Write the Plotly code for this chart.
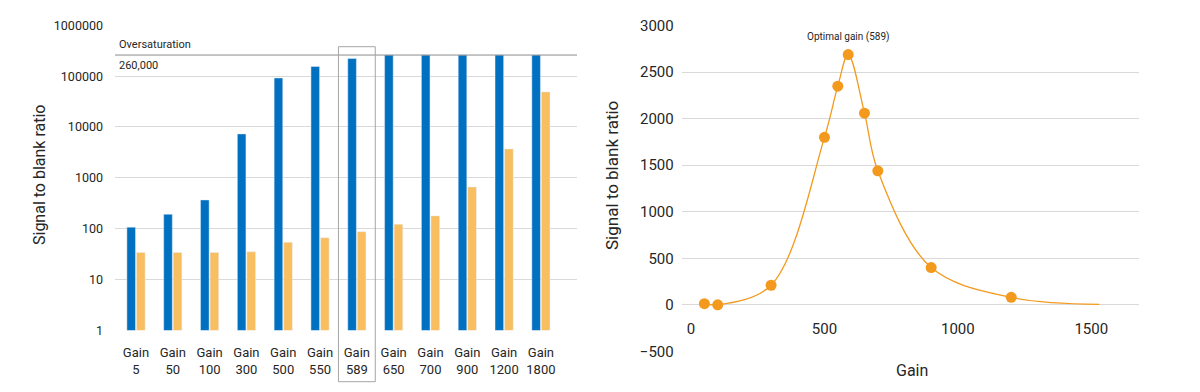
import math
import plotly.graph_objects as go

# ---------------- data ----------------
gains = ["5", "50", "100", "300", "500", "550", "589", "650", "700", "900", "1200", "1800"]
signal_ratio = [107, 192, 367, 7300, 92000, 155000, 222000, 260000, 260000, 260000, 260000, 260000]
blank_ratio = [34, 34, 34, 35, 54, 66, 87, 122, 178, 660, 3700, 49000]
oversaturation = 260000
highlight_gain = "589"

point_gain = [50, 100, 300, 500, 550, 589, 650, 700, 900, 1200]
point_ratio = [12, 0, 210, 1800, 2350, 2690, 2060, 1440, 400, 80]
tail_gain = [1530]
tail_ratio = [5]

left_ticks = [1, 10, 100, 1000, 10000, 100000, 1000000]
right_yticks = [-500, 0, 500, 1000, 1500, 2000, 2500, 3000]
right_xticks = [0, 500, 1000, 1500]

FONT = "Roboto"
TXT = "#262626"
GRID = "#D9D9D9"
BLUE = "#0070C0"
LORANGE = "#F8BE5F"
ORANGE = "#F39A1E"

W, H = 1200, 392
def px(v): return v / W
def py(v): return 1 - v / H

cats = ["Gain " + g for g in gains]

fig = go.Figure()
fig.add_trace(go.Bar(x=cats, y=signal_ratio, marker_color=BLUE, xaxis="x", yaxis="y",
                     showlegend=False, name="Signal"))
fig.add_trace(go.Bar(x=cats, y=blank_ratio, marker_color=LORANGE, xaxis="x", yaxis="y",
                     showlegend=False, name="Blank"))

# right chart: smooth line through the points plus its tail, markers on data points
fig.add_trace(go.Scatter(x=point_gain + tail_gain, y=point_ratio + tail_ratio, mode="lines",
                         line=dict(color=ORANGE, width=1.3, shape="spline", smoothing=1.0),
                         xaxis="x2", yaxis="y2", showlegend=False, hoverinfo="skip"))
fig.add_trace(go.Scatter(x=point_gain, y=point_ratio, mode="markers",
                         marker=dict(color=ORANGE, size=11),
                         xaxis="x2", yaxis="y2", showlegend=False))

hi = cats.index("Gain " + highlight_gain)

fig.update_layout(
    width=W, height=H,
    margin=dict(l=0, r=0, t=0, b=0, autoexpand=False),
    paper_bgcolor="white", plot_bgcolor="white",
    font=dict(family=FONT, color=TXT),
    barmode="group", bargap=0.48, bargroupgap=0.1,
    xaxis=dict(domain=[px(115), px(577)], type="category", range=[-0.57, 11.98],
               tickvals=cats, ticktext=["Gain<br>" + g for g in gains],
               tickfont=dict(size=13, color=TXT), showgrid=False, showline=False,
               zeroline=False, ticks="", ticklabelstandoff=13, anchor="y", automargin=False),
    yaxis=dict(domain=[py(330.3), py(25.3)], type="log", range=[0, 6],
               tickvals=left_ticks, ticktext=[str(t) for t in left_ticks],
               tickfont=dict(size=12.5, color=TXT), showgrid=True, gridcolor=GRID, gridwidth=1,
               showline=False, zeroline=False, ticks="", ticklabelstandoff=11, anchor="x",
               automargin=False),
    xaxis2=dict(domain=[px(681.7), px(1139.3)], range=[-35, 1680],
                tickvals=right_xticks, tickfont=dict(size=15, color=TXT),
                showgrid=False, showline=False, zeroline=False, ticks="",
                anchor="free", position=py(304.3), ticklabelstandoff=14, automargin=False),
    yaxis2=dict(domain=[py(351.3), py(25.7)], range=[-500, 3000],
                tickvals=right_yticks, tickfont=dict(size=15, color=TXT),
                showgrid=True, gridcolor=GRID, gridwidth=1, showline=False, zeroline=False,
                ticks="", ticklabelstandoff=7, anchor="x2", automargin=False),
    shapes=[
        dict(type="line", xref="x domain", yref="y", x0=0, x1=1,
             y0=oversaturation, y1=oversaturation, line=dict(color="#8C8C8C", width=1)),
        dict(type="rect", xref="x", yref="paper", x0=hi - 0.5, x1=hi + 0.5,
             y0=py(381.7), y1=py(46.7), line=dict(color="#A6A6A6", width=1),
             fillcolor="rgba(0,0,0,0)"),
    ],
    annotations=[
        dict(text="Oversaturation", xref="paper", yref="y", x=px(117),
             y=math.log10(oversaturation), xanchor="left", yanchor="bottom", yshift=2,
             showarrow=False, font=dict(size=11, color=TXT)),
        dict(text=f"{oversaturation:,}", xref="paper", yref="y", x=px(117),
             y=math.log10(oversaturation), xanchor="left", yanchor="top", yshift=-2,
             showarrow=False, font=dict(size=11, color=TXT)),
        dict(text="Signal to blank ratio", xref="paper", yref="paper", x=px(39), y=py(175),
             xanchor="center", yanchor="middle",
             textangle=-90, showarrow=False, font=dict(size=16, color=TXT)),
        dict(text="Signal to blank ratio", xref="paper", yref="paper", x=px(612), y=py(176),
             xanchor="center", yanchor="middle",
             textangle=-90, showarrow=False, font=dict(size=17, color=TXT)),
        dict(text="Gain", xref="paper", yref="paper", x=px(912), y=py(370),
             xanchor="center", yanchor="middle",
             showarrow=False, font=dict(size=16, color=TXT)),
        dict(text=f"Optimal gain ({highlight_gain})", xref="x2", yref="y2",
             x=point_gain[point_ratio.index(max(point_ratio))], y=max(point_ratio),
             yanchor="bottom", yshift=10, showarrow=False, font=dict(size=10, color=TXT)),
    ],
)

fig.write_html("out.html", config={"displayModeBar": False},
               post_script="document.body.style.margin='0';document.body.style.overflow='hidden';")
